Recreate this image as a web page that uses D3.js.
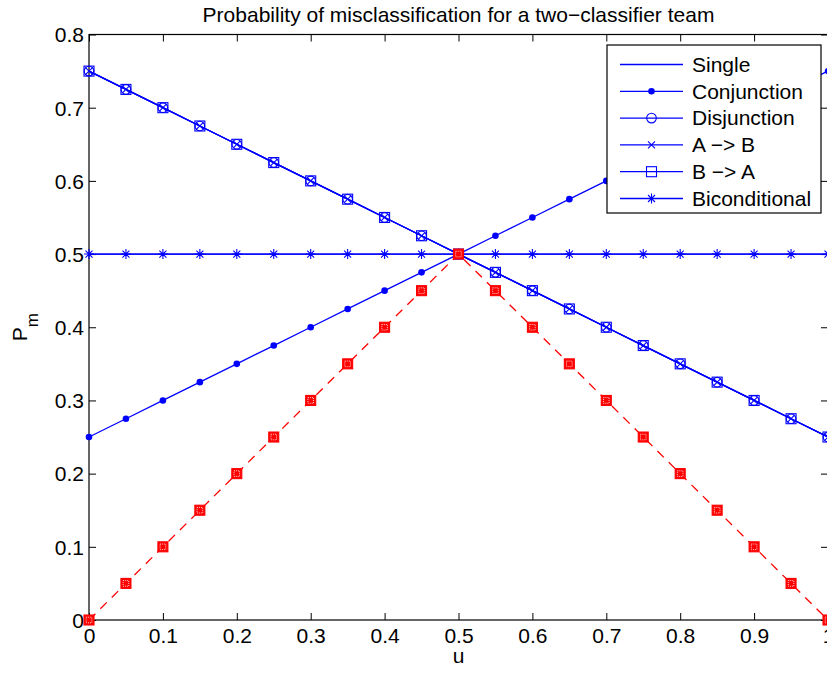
<!DOCTYPE html>
<html>
<head>
<meta charset="utf-8">
<script src="https://cdn.jsdelivr.net/npm/d3@7"></script>
<style>
  body { margin: 0; background: #fff; }
  svg { display: block; font-family: "Liberation Sans", Arial, Helvetica, sans-serif; }
</style>
</head>
<body>
<div id="chart"></div>
<script>
// data
var u = [0, 0.05, 0.1, 0.15, 0.2, 0.25, 0.3, 0.35, 0.4, 0.45, 0.5,
         0.55, 0.6, 0.65, 0.7, 0.75, 0.8, 0.85, 0.9, 0.95, 1];
var single = [0.5, 0.5, 0.5, 0.5, 0.5, 0.5, 0.5, 0.5, 0.5, 0.5, 0.5,
              0.5, 0.5, 0.5, 0.5, 0.5, 0.5, 0.5, 0.5, 0.5, 0.5];
var conjunction = [0.25, 0.275, 0.3, 0.325, 0.35, 0.375, 0.4, 0.425, 0.45, 0.475, 0.5,
                   0.525, 0.55, 0.575, 0.6, 0.625, 0.65, 0.675, 0.7, 0.725, 0.75];
var disjunction = [0.75, 0.725, 0.7, 0.675, 0.65, 0.625, 0.6, 0.575, 0.55, 0.525, 0.5,
                   0.475, 0.45, 0.425, 0.4, 0.375, 0.35, 0.325, 0.3, 0.275, 0.25];
var aToB = [0.75, 0.725, 0.7, 0.675, 0.65, 0.625, 0.6, 0.575, 0.55, 0.525, 0.5,
            0.475, 0.45, 0.425, 0.4, 0.375, 0.35, 0.325, 0.3, 0.275, 0.25];
var bToA = [0.75, 0.725, 0.7, 0.675, 0.65, 0.625, 0.6, 0.575, 0.55, 0.525, 0.5,
            0.475, 0.45, 0.425, 0.4, 0.375, 0.35, 0.325, 0.3, 0.275, 0.25];
var biconditional = [0.5, 0.5, 0.5, 0.5, 0.5, 0.5, 0.5, 0.5, 0.5, 0.5, 0.5,
                     0.5, 0.5, 0.5, 0.5, 0.5, 0.5, 0.5, 0.5, 0.5, 0.5];
var best = [0, 0.05, 0.1, 0.15, 0.2, 0.25, 0.3, 0.35, 0.4, 0.45, 0.5,
            0.45, 0.4, 0.35, 0.3, 0.25, 0.2, 0.15, 0.1, 0.05, 0];

var xTicks = [0, 0.1, 0.2, 0.3, 0.4, 0.5, 0.6, 0.7, 0.8, 0.9, 1];
var yTicks = [0, 0.1, 0.2, 0.3, 0.4, 0.5, 0.6, 0.7, 0.8];
var legendLabels = ['Single', 'Conjunction', 'Disjunction', 'A \u2212> B', 'B \u2212> A', 'Biconditional'];
var legendMarkers = ['none', 'dot', 'circle', 'x', 'square', 'star'];

var width = 827, height = 674;
var plotLeft = 89, plotRight = 828, plotTop = 34.5, plotBottom = 620;
var blue = '#0000ff', red = '#ff0000';
var fontSize = 21;

var x = d3.scaleLinear().domain([0, 1]).range([plotLeft, plotRight]);
var y = d3.scaleLinear().domain([0, 0.8]).range([plotBottom, plotTop]);

var svg = d3.select('#chart').append('svg')
  .attr('width', width)
  .attr('height', height);

// draw one marker of a given kind into g at (px, py)
function marker(g, kind, px, py, color) {
  var m = g.append('g').attr('transform', 'translate(' + px + ',' + py + ')')
    .attr('stroke', color).attr('fill', 'none').attr('stroke-width', 1.1);
  if (kind == 'dot') {
    m.append('circle').attr('r', 3.3).attr('fill', color).attr('stroke', 'none');
  } else if (kind == 'circle') {
    m.append('circle').attr('r', 4.8);
  } else if (kind == 'x') {
    m.append('path').attr('d', 'M-3.5,-3.5L3.5,3.5M-3.5,3.5L3.5,-3.5');
  } else if (kind == 'square') {
    m.append('rect').attr('x', -5).attr('y', -5).attr('width', 10).attr('height', 10);
  } else if (kind == 'star') {
    m.append('path').attr('d', 'M0,-5L0,5M-5,0L5,0M-3.5,-3.5L3.5,3.5M-3.5,3.5L3.5,-3.5');
  } else if (kind == 'redsq') {
    m.append('rect').attr('x', -5).attr('y', -5).attr('width', 10).attr('height', 10)
      .attr('fill', color);
    m.append('rect').attr('x', -2.8).attr('y', -2.8).attr('width', 5.6).attr('height', 5.6)
      .attr('stroke', '#fff').attr('stroke-width', 0.8).attr('stroke-dasharray', '1,1');
    m.append('circle').attr('r', 1.2).attr('fill', color).attr('stroke', 'none');
  }
}

// axes box and ticks (inward, MATLAB style)
var axesG = svg.append('g');
axesG.append('rect')
  .attr('x', plotLeft).attr('y', plotTop)
  .attr('width', plotRight - plotLeft).attr('height', plotBottom - plotTop)
  .attr('fill', 'none').attr('stroke', '#000').attr('stroke-width', 1.2);

var fmt = function(d) { return d === 0 ? '0' : (d === 1 ? '1' : d3.format('.1f')(d)); };

axesG.append('g').attr('transform', 'translate(0,' + plotBottom + ')')
  .call(d3.axisBottom(x).tickValues(xTicks).tickSizeInner(-7).tickSizeOuter(0).tickFormat(fmt))
  .call(function(g) {
    g.select('.domain').remove();
    g.selectAll('text').attr('y', 8).attr('dy', '0.71em')
      .attr('font-size', fontSize).attr('font-family', null).attr('fill', '#000');
    g.selectAll('line').attr('stroke', '#000');
  });
axesG.append('g').attr('transform', 'translate(0,' + plotTop + ')')
  .call(d3.axisTop(x).tickValues(xTicks).tickSizeInner(-7).tickSizeOuter(0).tickFormat(''))
  .call(function(g) { g.select('.domain').remove(); g.selectAll('line').attr('stroke', '#000'); });

axesG.append('g').attr('transform', 'translate(' + plotLeft + ',0)')
  .call(d3.axisLeft(y).tickValues(yTicks).tickSizeInner(-7).tickSizeOuter(0).tickFormat(fmt))
  .call(function(g) {
    g.select('.domain').remove();
    g.selectAll('text').attr('x', -5).attr('dy', '0.35em')
      .attr('font-size', fontSize).attr('font-family', null).attr('fill', '#000');
    g.selectAll('line').attr('stroke', '#000');
  });
axesG.append('g').attr('transform', 'translate(' + plotRight + ',0)')
  .call(d3.axisRight(y).tickValues(yTicks).tickSizeInner(-7).tickSizeOuter(0).tickFormat(''))
  .call(function(g) { g.select('.domain').remove(); g.selectAll('line').attr('stroke', '#000'); });

// series
var line = d3.line()
  .x(function(d) { return x(d[0]); })
  .y(function(d) { return y(d[1]); });

function pairs(vals) { return u.map(function(v, i) { return [v, vals[i]]; }); }

var series = [
  { vals: single, marker: 'none' },
  { vals: conjunction, marker: 'dot' },
  { vals: disjunction, marker: 'circle' },
  { vals: aToB, marker: 'x' },
  { vals: bToA, marker: 'square' },
  { vals: biconditional, marker: 'star' }
];

var plotG = svg.append('g');
series.forEach(function(s) {
  plotG.append('path').datum(pairs(s.vals))
    .attr('d', line).attr('fill', 'none')
    .attr('stroke', blue).attr('stroke-width', 1.3);
  if (s.marker != 'none') {
    pairs(s.vals).forEach(function(p) { marker(plotG, s.marker, x(p[0]), y(p[1]), blue); });
  }
});

plotG.append('path').datum(pairs(best))
  .attr('d', line).attr('fill', 'none')
  .attr('stroke', red).attr('stroke-width', 1.3).attr('stroke-dasharray', '9,7');
pairs(best).forEach(function(p) { marker(plotG, 'redsq', x(p[0]), y(p[1]), red); });

// legend
var lg = svg.append('g');
lg.append('rect').attr('x', 607).attr('y', 45).attr('width', 214).attr('height', 168)
  .attr('fill', '#fff').attr('stroke', '#000').attr('stroke-width', 1.2);
legendLabels.forEach(function(lab, i) {
  var ly = 64.5 + i * 26.8;
  lg.append('line').attr('x1', 620).attr('x2', 683).attr('y1', ly).attr('y2', ly)
    .attr('stroke', blue).attr('stroke-width', 1.3);
  if (legendMarkers[i] != 'none') marker(lg, legendMarkers[i], 651.5, ly, blue);
  lg.append('text').attr('x', 692).attr('y', ly).attr('dy', '0.35em')
    .attr('font-size', fontSize).text(lab);
});

// title and labels
svg.append('text').attr('x', (plotLeft + plotRight) / 2).attr('y', 22)
  .attr('text-anchor', 'middle').attr('font-size', fontSize)
  .text('Probability of misclassification for a two\u2212classifier team');

svg.append('text').attr('x', (plotLeft + plotRight) / 2).attr('y', 663)
  .attr('text-anchor', 'middle').attr('font-size', fontSize).text('u');

var yl = svg.append('text')
  .attr('transform', 'translate(27,' + ((plotTop + plotBottom) / 2) + ') rotate(-90)')
  .attr('text-anchor', 'middle').attr('font-size', fontSize);
yl.append('tspan').text('P');
yl.append('tspan').attr('dy', 11).attr('font-size', 17).text('m');
</script>
</body>
</html>
